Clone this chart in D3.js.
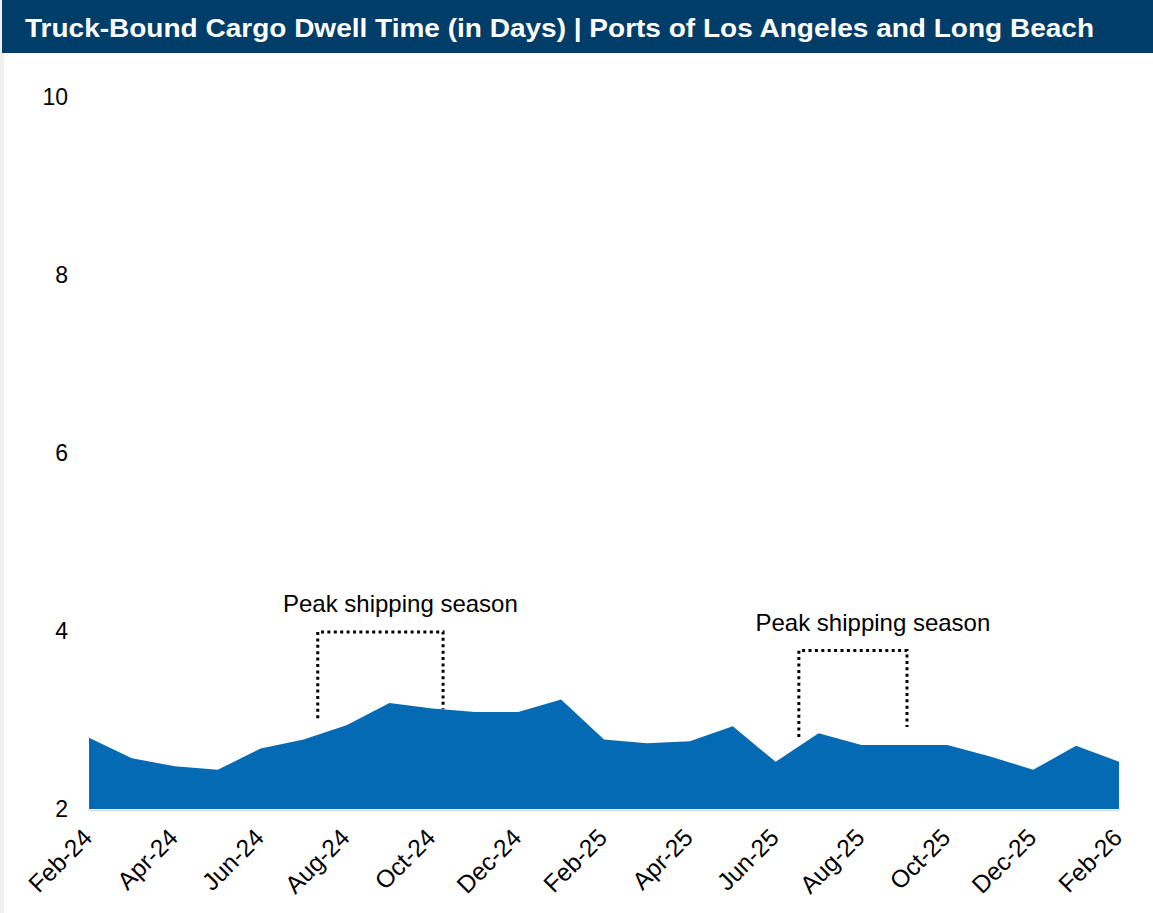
<!DOCTYPE html>
<html>
<head>
<meta charset="utf-8">
<script src="https://cdn.jsdelivr.net/npm/d3@7"></script>
<style>
  body { margin: 0; background: #fff; font-family: "Liberation Sans", Arial, sans-serif; }
</style>
</head>
<body>
<div id="chart"></div>
<script>
// monthly dwell time, Feb-24 .. Feb-26
const months = ["Feb-24","Mar-24","Apr-24","May-24","Jun-24","Jul-24","Aug-24","Sep-24","Oct-24","Nov-24","Dec-24","Jan-25",
  "Feb-25","Mar-25","Apr-25","May-25","Jun-25","Jul-25","Aug-25","Sep-25","Oct-25","Nov-25","Dec-25","Jan-26","Feb-26"];
const dwellDays = [2.80, 2.57, 2.48, 2.44, 2.68, 2.78, 2.94, 3.19, 3.13, 3.09, 3.09, 3.23,
  2.78, 2.74, 2.76, 2.93, 2.53, 2.85, 2.72, 2.72, 2.72, 2.59, 2.44, 2.71, 2.53];
const yTicks = [2, 4, 6, 8, 10];

// peak season brackets: [start index, end index, top value, left foot, right foot]
const peakLabel = "Peak shipping season";
const peakSpans = [
  [5.33, 8.25, 3.99, 3.02, 3.12],
  [16.54, 19.06, 3.78, 2.81, 2.92]
];

const width = 1153, height = 913;

const svg = d3.select("#chart").append("svg")
  .attr("width", width)
  .attr("height", height);

// left page edge
svg.append("rect").attr("x", 0).attr("y", 0).attr("width", 4).attr("height", height).attr("fill", "#f0f0f0");

// title bar
svg.append("rect")
  .attr("x", 2).attr("y", 0)
  .attr("width", width - 2).attr("height", 53)
  .attr("fill", "#003d69");
svg.append("text")
  .attr("x", 25).attr("y", 37)
  .attr("fill", "#fff")
  .attr("font-size", 26)
  .attr("font-weight", "bold")
  .attr("textLength", 1069)
  .attr("lengthAdjust", "spacingAndGlyphs")
  .text("Truck-Bound Cargo Dwell Time (in Days) | Ports of Los Angeles and Long Beach");

const x = d3.scaleLinear().domain([0, months.length - 1]).range([89, 1119]);
const y = d3.scaleLinear().domain([2, 10]).range([809, 97]);

// area
const area = d3.area()
  .x((d, i) => x(i))
  .y0(y(2))
  .y1(d => y(d));

svg.append("path")
  .datum(dwellDays)
  .attr("d", area)
  .attr("fill", "#056ab4");

svg.append("line")
  .attr("x1", x(0)).attr("x2", x(months.length - 1))
  .attr("y1", y(2) + 1.5).attr("y2", y(2) + 1.5)
  .attr("stroke", "#d3dbe6").attr("stroke-width", 1.5);

// y axis
const yAxis = svg.append("g")
  .attr("transform", "translate(68,0)")
  .call(d3.axisLeft(y).tickValues(yTicks).tickSize(0).tickPadding(0).tickFormat(d3.format("d")));
yAxis.select(".domain").remove();
yAxis.selectAll("text")
  .attr("font-size", 23)
  .attr("font-family", "Liberation Sans, Arial, sans-serif")
  .attr("fill", "#000");

// x axis
const xAxis = svg.append("g")
  .attr("transform", `translate(0,${y(2)})`)
  .call(d3.axisBottom(x)
    .tickValues(d3.range(0, months.length, 2))
    .tickSize(0)
    .tickFormat(i => months[i]));
xAxis.select(".domain").remove();
xAxis.selectAll("text")
  .attr("font-size", 24.5)
  .attr("font-family", "Liberation Sans, Arial, sans-serif")
  .attr("fill", "#000")
  .attr("text-anchor", "end")
  .attr("dy", 0)
  .attr("transform", "translate(2,28) rotate(-45)");

// peak season annotations
peakSpans.forEach(s => {
  const [i0, i1, top, f0, f1] = s;
  svg.append("path")
    .attr("d", `M${x(i0)},${y(f0)}V${y(top)}H${x(i1)}V${y(f1)}`)
    .attr("fill", "none")
    .attr("stroke", "#000")
    .attr("stroke-width", 3)
    .attr("stroke-dasharray", "3,3.4");
  svg.append("text")
    .attr("x", (x(i0) + x(i1)) / 2 + 20)
    .attr("y", y(top) - 20)
    .attr("text-anchor", "middle")
    .attr("font-size", 24)
    .attr("fill", "#000")
    .text(peakLabel);
});
</script>
</body>
</html>
